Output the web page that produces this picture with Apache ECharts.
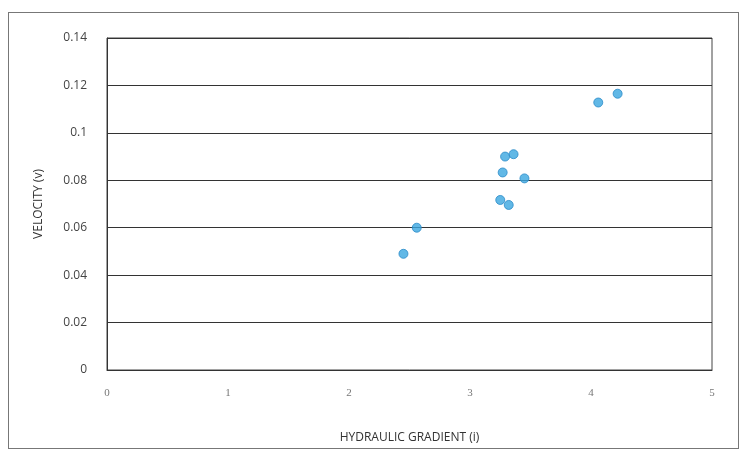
<!DOCTYPE html>
<html><head><meta charset="utf-8">
<script src="https://cdn.jsdelivr.net/npm/echarts@6/dist/echarts.min.js"></script>
<style>html,body{margin:0;padding:0;background:#fff}#c{width:743px;height:453px}
#frame{position:absolute;left:8px;top:12px;width:731px;height:437px;border:1px solid #777;box-sizing:border-box;pointer-events:none}</style>
</head><body><div id="c"></div><div id="frame"></div>
<script>
const gradient = [2.45, 2.56, 3.25, 3.32, 3.27, 3.45, 3.29, 3.36, 4.06, 4.22];
const velocity = [0.049, 0.060, 0.0717, 0.0696, 0.0833, 0.0808, 0.0900, 0.0910, 0.1128, 0.1165];
const xTicks = [0, 1, 2, 3, 4, 5];
const yTicks = [0, 0.02, 0.04, 0.06, 0.08, 0.1, 0.12, 0.14];

const chart = echarts.init(document.getElementById('c'));
chart.setOption({
  animation: false,
  grid: {left: 107, top: 38, right: 31, bottom: 83, show: true, borderColor: '#444', borderWidth: 1},
  xAxis: {
    type: 'value', min: xTicks[0], max: xTicks[xTicks.length - 1], interval: 1,
    name: 'HYDRAULIC GRADIENT (i)', nameLocation: 'middle', nameGap: 62,
    nameTextStyle: {color: '#333', fontSize: 12, fontFamily: 'Open Sans'},
    axisLine: {show: true, lineStyle: {color: '#333'}}, axisTick: {show: false},
    splitLine: {show: false},
    axisLabel: {color: '#777', fontSize: 11, margin: 18, fontFamily: 'Liberation Serif'}
  },
  yAxis: {
    type: 'value', min: 0, max: 0.14, interval: 0.02,
    name: 'VELOCITY (v)', nameLocation: 'middle', nameGap: 62, nameRotate: 90,
    nameTextStyle: {color: '#333', fontSize: 12, fontFamily: 'Open Sans'},
    axisLine: {show: true, lineStyle: {color: '#333'}}, axisTick: {show: false},
    splitLine: {show: true, lineStyle: {color: '#333', width: 1.2}},
    axisLabel: {color: '#444', fontSize: 12, margin: 20, fontFamily: 'Open Sans',
      formatter: v => String(Math.round(v * 100) / 100)}
  },
  series: [{
    type: 'scatter', symbol: 'circle', symbolSize: 9,
    itemStyle: {color: '#3aa6e0', borderColor: '#2a8bc8', borderWidth: 1},
    data: gradient.map((g, i) => [g, velocity[i]])
  }]
});
</script></body></html>
